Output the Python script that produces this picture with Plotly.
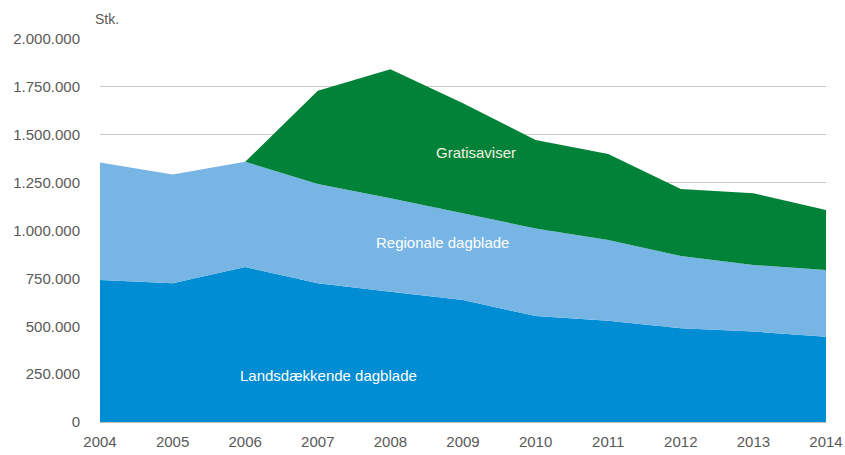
import plotly.graph_objects as go

# Circulation of Danish newspapers, pieces (Stk.)
years = [2004, 2005, 2006, 2007, 2008, 2009, 2010, 2011, 2012, 2013, 2014]
landsdaekkende = [742000, 724000, 809000, 724000, 680000, 637000, 553000, 529000, 489000, 472000, 445000]
regionale = [613000, 568000, 550000, 519000, 488000, 453000, 458000, 421000, 378000, 348000, 349000]
gratisaviser = [0, 0, 0, 487000, 674000, 574000, 462000, 450000, 350000, 374000, 313000]

y_tickvals = [0, 250000, 500000, 750000, 1000000, 1250000, 1500000, 1750000, 2000000]
y_ticktext = ["0", "250.000", "500.000", "750.000", "1.000.000", "1.250.000",
              "1.500.000", "1.750.000", "2.000.000"]

series = [
    ("Landsdækkende dagblade", landsdaekkende, "#008dd4"),
    ("Regionale dagblade", regionale, "#76b5e4"),
    ("Gratisaviser", gratisaviser, "#008338"),
]

FONT = "Liberation Sans, Arial, sans-serif"

fig = go.Figure()
for name, vals, color in series:
    fig.add_trace(go.Scatter(
        x=years, y=vals, name=name, stackgroup="one", mode="lines",
        line=dict(width=0, color=color), fillcolor=color, hoverinfo="skip",
    ))

# In-area series labels
labels = [
    ("Gratisaviser", 2009.18, 1405000, "#f4f1e0"),
    ("Regionale dagblade", 2008.72, 935000, "#ffffff"),
    ("Landsdækkende dagblade", 2007.15, 245000, "#ffffff"),
]
for text, x, y, c in labels:
    fig.add_annotation(x=x, y=y, text=text, showarrow=False,
                       font=dict(family=FONT, size=15, color=c))

fig.add_annotation(xref="paper", yref="paper", x=-0.01, y=1.025, xanchor="left",
                   yanchor="bottom", text="Stk.", showarrow=False,
                   font=dict(family=FONT, size=14, color="#595959"))

fig.update_layout(
    width=845, height=455,
    margin=dict(l=100, r=19, t=39, b=33),
    paper_bgcolor="white", plot_bgcolor="white",
    showlegend=False,
    font=dict(family=FONT, size=15, color="#595959"),
    xaxis=dict(
        range=[2004, 2014], tickvals=years, ticktext=[str(y) for y in years],
        showgrid=False, zeroline=False, showline=True, linecolor="#bfbfbf",
        linewidth=1, ticks="", tickfont=dict(size=15), automargin=False,
        ticklabelstandoff=6,
    ),
    yaxis=dict(
        range=[0, 2000000], tickvals=y_tickvals, ticktext=y_ticktext,
        showgrid=True, gridcolor="#c9c9c1", gridwidth=1, zeroline=False,
        showline=False, ticks="", ticklabelstandoff=19, tickfont=dict(size=15),
        automargin=False,
    ),
)

fig.write_html("out.html")
